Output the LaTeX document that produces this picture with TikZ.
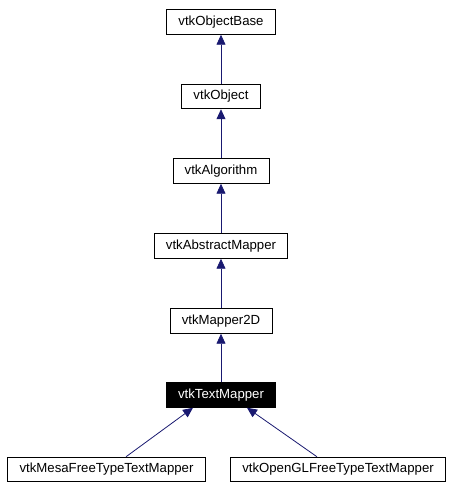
\documentclass[tikz,border=0pt]{standalone}
\usepackage{fontspec}
\setmainfont{Liberation Sans}
\usetikzlibrary{arrows.meta}
\definecolor{edgeblue}{HTML}{191970}
\begin{document}
\begin{tikzpicture}[x=0.75pt,y=-0.75pt,
  cls/.style={draw, fill=white, line width=0.6pt, inner xsep=8.8pt, inner ysep=0pt, minimum height=18.5pt, font=\fontsize{9.9}{11}\selectfont},
  cur/.style={cls, fill=black, text=white},
  inh/.style={edgeblue, line width=0.6pt, -{Triangle[length=7.5pt,width=6.75pt]}}]
\useasboundingbox (0,0) rectangle (452,490);
\node (obase) at (221,22) [cls] {vtkObjectBase};
\node (obj) at (221,96.5) [cls] {vtkObject};
\node (algo) at (221,171) [cls] {vtkAlgorithm};
\node (amap) at (221,246) [cls] {vtkAbstractMapper};
\node (map2d) at (221,321) [cls] {vtkMapper2D};
\node (tmap) at (221,395) [cur] {vtkTextMapper};
\node (mesa) at (106.5,469.5) [cls] {vtkMesaFreeTypeTextMapper};
\node (ogl) at (338,469.5) [cls] {vtkOpenGLFreeTypeTextMapper};
\draw [inh] (obj) -- (obase);
\draw [inh] (algo) -- (obj);
\draw [inh] (amap) -- (algo);
\draw [inh] (map2d) -- (amap);
\draw [inh] (tmap) -- (map2d);
\draw [inh] (mesa.north -| 126,0) -- (tmap.south -| 193,0);
\draw [inh] (ogl.north -| 317,0) -- (tmap.south -| 247,0);
\end{tikzpicture}
\end{document}
